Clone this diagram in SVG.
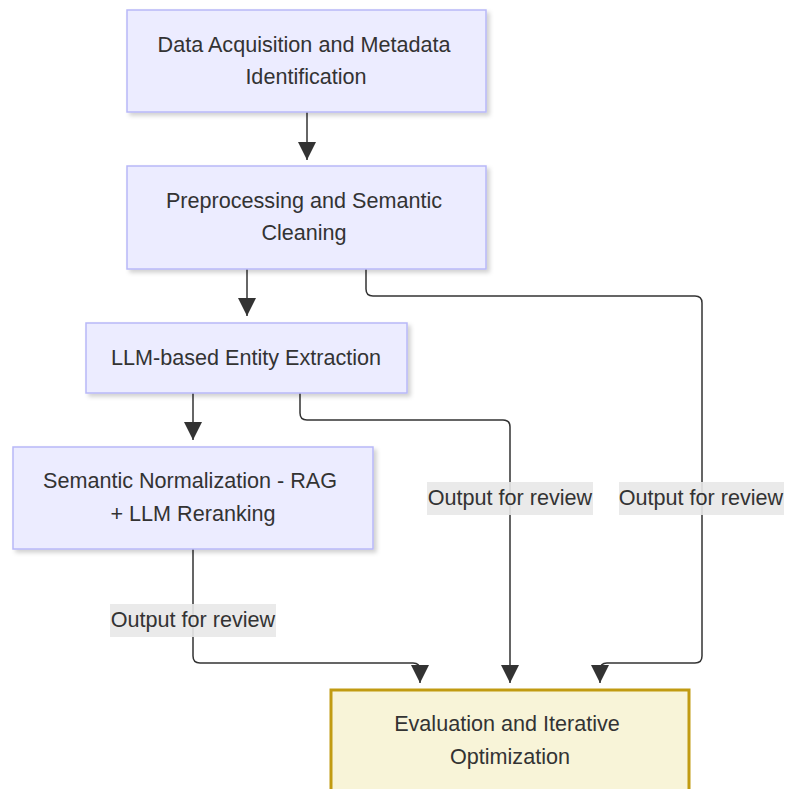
<svg xmlns="http://www.w3.org/2000/svg" width="785" height="789" viewBox="0 0 785 789">
  <style>
    .node rect { fill: #ececff; stroke: #b8b8f8; stroke-width: 1.5; }
    .node.eval rect { fill: #f8f4d8; stroke: #c19b12; stroke-width: 3; }
    .node text, .label text { font-family: "Liberation Sans", Arial, sans-serif; font-size: 21.6px; fill: #333333; text-anchor: middle; dominant-baseline: central; }
    .edge { fill: none; stroke: #333333; stroke-width: 1.5; }
    .label rect { fill: #e8e8e8; opacity: 0.9; }
  </style>
  <defs>
    <filter id="shadow" x="-10%" y="-10%" width="130%" height="140%">
      <feDropShadow dx="3" dy="3" stdDeviation="2" flood-color="#000000" flood-opacity="0.18"/>
    </filter>
    <marker id="arrow" viewBox="0 0 10 10" refX="10" refY="5" markerWidth="18" markerHeight="18" markerUnits="userSpaceOnUse" orient="auto">
      <path d="M0,0 L10,5 L0,10 z" fill="#333333"/>
    </marker>
  </defs>

  <g id="connectors">
    <path class="edge" d="M307,112 L307,160" marker-end="url(#arrow)"/>
    <path class="edge" d="M247,269 L247,316" marker-end="url(#arrow)"/>
    <path class="edge" d="M193,393 L193,440" marker-end="url(#arrow)"/>
    <path class="edge" d="M193,549 L193,656 Q193,663 200,663 L413,663 Q420,663 420,670 L420,683" marker-end="url(#arrow)"/>
    <path class="edge" d="M300,393 L300,413 Q300,420 307,420 L503,420 Q510,420 510,427 L510,683" marker-end="url(#arrow)"/>
    <path class="edge" d="M366,269 L366,289 Q366,296 373,296 L695,296 Q702,296 702,303 L702,656 Q702,663 695,663 L607,663 Q600,663 600,670 L600,683" marker-end="url(#arrow)"/>
  </g>

  <g id="edge-labels">
    <g class="label">
      <rect x="427" y="482" width="166" height="33"/>
      <text x="510" y="497">Output for review</text>
    </g>
    <g class="label">
      <rect x="619" y="482" width="165" height="33"/>
      <text x="701" y="497">Output for review</text>
    </g>
    <g class="label">
      <rect x="110" y="604" width="166" height="33"/>
      <text x="193" y="619">Output for review</text>
    </g>
  </g>

  <g id="data-acquisition" class="node">
    <rect x="127" y="10" width="359" height="102" filter="url(#shadow)"/>
    <text x="304" y="44">Data Acquisition and Metadata</text>
    <text x="306" y="76">Identification</text>
  </g>

  <g id="preprocessing" class="node">
    <rect x="127" y="166" width="359" height="103" filter="url(#shadow)"/>
    <text x="304" y="200">Preprocessing and Semantic</text>
    <text x="304" y="232">Cleaning</text>
  </g>

  <g id="entity-extraction" class="node">
    <rect x="86" y="323" width="321" height="70" filter="url(#shadow)"/>
    <text x="246" y="357">LLM-based Entity Extraction</text>
  </g>

  <g id="semantic-normalization" class="node">
    <rect x="13" y="447" width="360" height="102" filter="url(#shadow)"/>
    <text x="190" y="480">Semantic Normalization - RAG</text>
    <text x="193" y="513">+ LLM Reranking</text>
  </g>

  <g id="evaluation" class="node eval">
    <rect x="331" y="690" width="358" height="120"/>
    <text x="507" y="723">Evaluation and Iterative</text>
    <text x="510" y="756">Optimization</text>
  </g>
</svg>
